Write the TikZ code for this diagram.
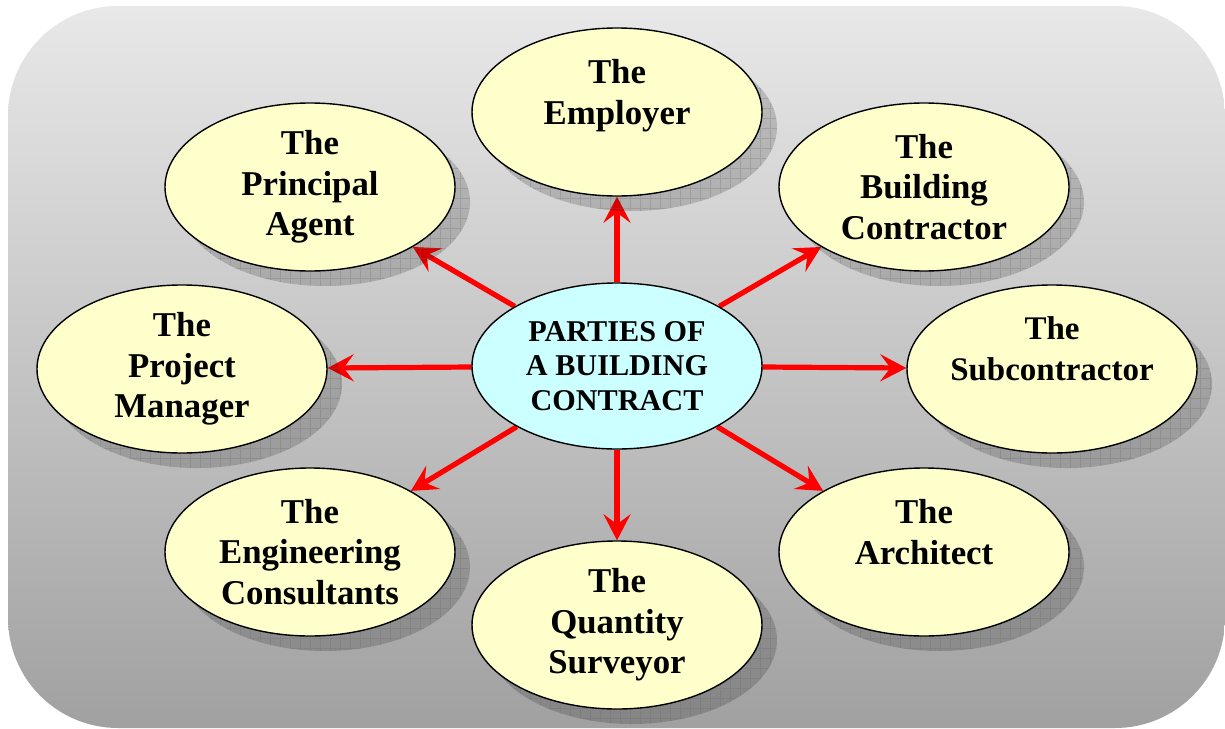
\documentclass[tikz,border=0pt]{standalone}
\usepackage{fontspec}
\setmainfont{Liberation Serif}
\usetikzlibrary{arrows.meta, shapes.geometric, shadows, patterns.meta}
\definecolor{partyfill}{HTML}{FFFFCC}
\definecolor{hubfill}{HTML}{CCFFFF}
\pgfdeclarelayer{bottom}
\pgfdeclarelayer{back}
\pgfsetlayers{bottom,back,main}

\begin{document}
\begin{tikzpicture}[x=0.5pt, y=-0.5pt,
  shadowed/.style={
    drop shadow={shadow xshift=7.5pt, shadow yshift=-7.5pt, fill=black, opacity=0.17},
    drop shadow={shadow xshift=7.5pt, shadow yshift=-7.5pt,
      pattern={Hatch[angle=0, distance=5pt, line width=0.4pt]}, pattern color=black!60, opacity=0.25}},
  party/.style={ellipse, draw=black, line width=0.7pt, fill=partyfill,
    minimum width=145pt, minimum height=84pt, inner sep=0pt, align=center,
    font=\fontsize{17.4}{20.25}\selectfont\bfseries, shadowed},
  hub/.style={ellipse, draw=black, line width=0.7pt, fill=hubfill,
    minimum width=145pt, minimum height=83pt, inner sep=0pt, align=center,
    font=\fontsize{15.1}{17.25}\selectfont\bfseries},
  link/.style={red, line width=2.6pt, -{Stealth[length=13pt, width=13.5pt, inset=5pt]}}]
  \useasboundingbox (0,0) rectangle (1225,728);
  \begin{pgfonlayer}{bottom}
    \shade[top color=black!9, bottom color=black!37, rounded corners=55pt] (8,6) rectangle (1225,728);
  \end{pgfonlayer}

  \node[hub] (hub) at (617,366) {PARTIES OF\\A BUILDING\\CONTRACT};

  \node[party] (employer) at (617,112) {The\\Employer\\~};
  \node[party] (agent) at (310,187) {The\\Principal\\Agent};
  \node[party] (builder) at (924,187) {The\\Building\\Contractor};
  \node[party] (manager) at (182,369) {The\\Project\\Manager};
  \node[party, font=\fontsize{16.5}{20.25}\selectfont\bfseries] (sub) at (1052,369) {The\\Subcontractor\\~};
  \node[party] (engineers) at (310,552) {The\\Engineering\\Consultants};
  \node[party] (architect) at (924,552) {The\\Architect\\~};
  \node[party] (surveyor) at (617,625) {The\\Quantity\\Surveyor};

  \begin{pgfonlayer}{back}
    \foreach \p in {employer, agent, builder, manager, sub, engineers, architect, surveyor}
      \draw[link] (hub) -- (\p);
  \end{pgfonlayer}
\end{tikzpicture}
\end{document}
